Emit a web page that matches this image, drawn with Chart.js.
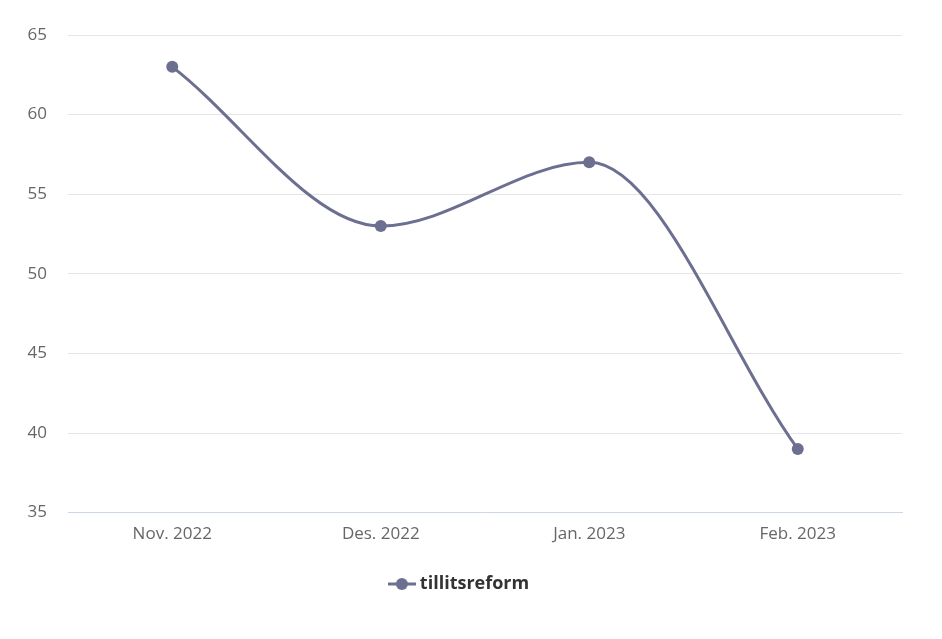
<!DOCTYPE html>
<html>
<head>
<meta charset="utf-8">
<script src="https://cdn.jsdelivr.net/npm/chart.js@4/dist/chart.umd.min.js"></script>
<style>
  html, body { margin: 0; padding: 0; background: #fff; }
  #wrap { width: 942px; height: 639px; position: relative; }
</style>
</head>
<body>
<div id="wrap"><canvas id="myChart"></canvas></div>
<script>
// chart data
const months = ['Nov. 2022', 'Des. 2022', 'Jan. 2023', 'Feb. 2023'];
const tillitsreform = [63, 53, 57, 39];
const yTicks = [35, 40, 45, 50, 55, 60, 65];

const lineColor = '#6c6f90';

// legend symbol: short line with a dot in the middle
function legendSymbol() {
    const c = document.createElement('canvas');
    c.width = 28;
    c.height = 14;
    const g = c.getContext('2d');
    g.strokeStyle = lineColor;
    g.lineWidth = 3;
    g.beginPath();
    g.moveTo(0, 7);
    g.lineTo(28, 7);
    g.stroke();
    g.fillStyle = lineColor;
    g.beginPath();
    g.arc(14, 7, 6, 0, Math.PI * 2);
    g.fill();
    return c;
}

const ctx = document.getElementById('myChart').getContext('2d');

const myChart = new Chart(ctx, {
    type: 'line',
    data: {
        labels: months,
        datasets: [{
            label: 'tillitsreform',
            data: tillitsreform,
            borderColor: lineColor,
            backgroundColor: lineColor,
            borderWidth: 3,
            cubicInterpolationMode: 'monotone',
            pointRadius: 6,
            pointHoverRadius: 7,
            pointBackgroundColor: lineColor,
            pointBorderWidth: 0,
            pointStyle: 'circle'
        }]
    },
    options: {
        responsive: true,
        maintainAspectRatio: false,
        animation: false,
        layout: {
            padding: { left: 20, right: 40, top: 35, bottom: 36 }
        },
        plugins: {
            tooltip: { enabled: false },
            legend: {
                position: 'bottom',
                labels: {
                    color: '#333333',
                    font: { family: 'Open Sans', size: 18, weight: 'bold' },
                    usePointStyle: true,
                    padding: 20,
                    generateLabels: (chart) => chart.data.datasets.map((ds, i) => ({
                        text: ds.label,
                        fontColor: '#333333',
                        pointStyle: legendSymbol(),
                        datasetIndex: i,
                        hidden: false,
                        lineWidth: 0
                    }))
                }
            }
        },
        scales: {
            x: {
                offset: true,
                grid: { display: false, drawTicks: false },
                border: { display: true, color: '#ccd6eb', width: 1 },
                ticks: {
                    color: '#666666',
                    font: { family: 'Open Sans', size: 17 },
                    padding: 11
                }
            },
            y: {
                min: yTicks[0],
                max: yTicks[yTicks.length - 1],
                afterBuildTicks: (axis) => {
                    axis.ticks = yTicks.map(v => ({ value: v }));
                },
                afterFit: (axis) => {
                    axis.width = 48;
                },
                grid: { color: '#e6e6e6', lineWidth: 1, drawTicks: false },
                border: { display: false },
                ticks: {
                    color: '#666666',
                    font: { family: 'Open Sans', size: 17 },
                    padding: 21
                }
            }
        }
    }
});
</script>
</body>
</html>
